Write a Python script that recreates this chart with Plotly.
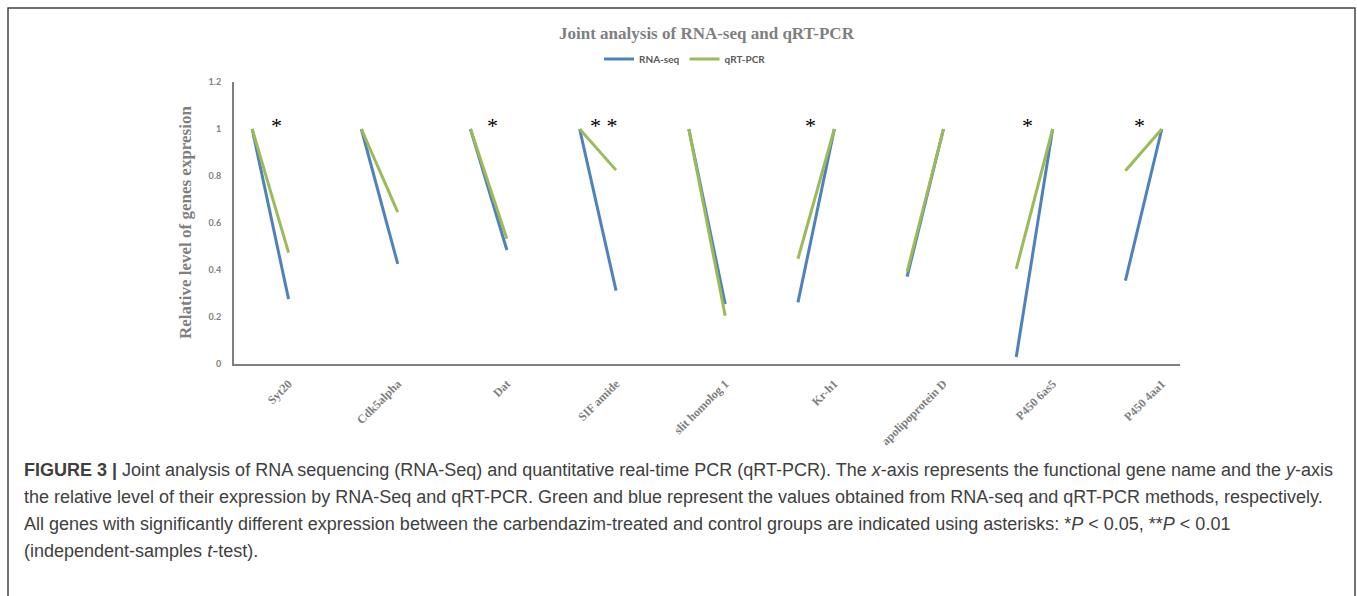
import plotly.graph_objects as go

# ---------------- data ----------------
genes = ["Syt20", "Cdk5alpha", "Dat", "SIF amide", "slit homolog 1",
         "Kr-h1", "apolipoprotein D", "P450 6as5", "P450 4aa1"]
rna_start = [1.0, 1.0, 1.0, 1.0, 1.0, 0.262, 0.372, 0.030, 0.355]
rna_end = [0.276, 0.426, 0.485, 0.312, 0.255, 1.0, 1.0, 1.0, 1.0]
qpcr_start = [1.0, 1.0, 1.0, 1.0, 1.0, 0.448, 0.393, 0.405, 0.822]
qpcr_end = [0.474, 0.646, 0.533, 0.825, 0.205, 1.0, 1.0, 1.0, 1.0]
significance = ["*", "", "*", "* *", "", "*", "", "*", "*"]
y_ticks = [0, 0.2, 0.4, 0.6, 0.8, 1.0, 1.2]
y_tick_labels = ["0", "0.2", "0.4", "0.6", "0.8", "1", "1.2"]

# ---------------- layout helpers ----------------
W, H = 1357, 596
L, R, T, B = 234, 1180, 82, 364  # plot area in pixels


def px(x):
    return (x - L) / (R - L)


def py(y):
    return (B - y) / (B - T)


def build(start, end):
    xs, ys = [], []
    for i in range(len(genes)):
        xs += [3 * i, 3 * i + 1, None]
        ys += [start[i], end[i], None]
    return xs, ys


BLUE = "#4F81BD"
GREEN = "#9BBB59"
GRAY = "#7F7F7F"

fig = go.Figure()
xs, ys = build(rna_start, rna_end)
fig.add_trace(go.Scatter(x=xs, y=ys, mode="lines", name="RNA-seq",
                         line=dict(color=BLUE, width=3), connectgaps=False))
xs, ys = build(qpcr_start, qpcr_end)
fig.add_trace(go.Scatter(x=xs, y=ys, mode="lines", name="qRT-PCR",
                         line=dict(color=GREEN, width=3), connectgaps=False))

annotations = []
# significance stars (placed a little after each gene's first point)
star_dx = [0.68, 0.6, 0.6, 0.66, 0.5, 0.35, 0.5, 0.3, 0.4]
for i, s in enumerate(significance):
    if s:
        annotations.append(dict(
            x=3 * i + star_dx[i], y=1.015, xref="x", yref="y", text=s,
            showarrow=False, xanchor="center", yanchor="middle",
            font=dict(family="Liberation Serif", size=22, color="black")))

# chart title
annotations.append(dict(
    x=px(707), y=py(33), xref="paper", yref="paper",
    text="<b>Joint analysis of RNA-seq and qRT-PCR</b>", showarrow=False,
    xanchor="center", yanchor="middle",
    font=dict(family="Liberation Serif", size=17, color=GRAY)))

# y-axis title
annotations.append(dict(
    x=px(185), y=py(223), xref="paper", yref="paper", textangle=-90,
    text="<b>Relative level of genes expresion</b>", showarrow=False,
    xanchor="center", yanchor="middle",
    font=dict(family="Liberation Serif", size=17, color=GRAY)))

# caption
caption = [
    "<b>FIGURE 3 |</b> Joint analysis of RNA sequencing (RNA-Seq) and quantitative real-time PCR (qRT-PCR). "
    "The <i>x</i>-axis represents the functional gene name and the <i>y</i>-axis",
    "the relative level of their expression by RNA-Seq and qRT-PCR. Green and blue represent the values "
    "obtained from RNA-seq and qRT-PCR methods, respectively.",
    "All genes with significantly different expression between the carbendazim-treated and control groups "
    "are indicated using asterisks: *<i>P</i> &lt; 0.05, **<i>P</i> &lt; 0.01",
    "(independent-samples <i>t</i>-test).",
]
for k, line in enumerate(caption):
    annotations.append(dict(
        x=px(22), y=py(470 + 27 * k), xref="paper", yref="paper", text=line,
        showarrow=False, xanchor="left", yanchor="middle",
        font=dict(family="Liberation Sans", size=18, color="#404040")))

fig.update_layout(
    width=W, height=H,
    margin=dict(l=L, r=W - R, t=T, b=H - B, pad=0),
    paper_bgcolor="white", plot_bgcolor="white",
    showlegend=True,
    legend=dict(orientation="h", x=px(685), y=py(59), xanchor="center",
                yanchor="middle", font=dict(family="Lato", size=10, color="#595959",
                                            weight="bold"),
                itemwidth=30, bgcolor="rgba(0,0,0,0)"),
    annotations=annotations,
    shapes=[dict(type="rect", xref="paper", yref="paper",
                 x0=px(8), x1=px(1355), y0=py(604), y1=py(8),
                 line=dict(color="#444444", width=1.5))],
    xaxis=dict(range=[-0.5, 25.5], tickmode="array",
               tickvals=[3 * i + 1 for i in range(len(genes))], ticktext=genes,
               tickangle=-45, showgrid=False, zeroline=False, showline=True,
               linecolor=GRAY, linewidth=2, ticks="outside", ticklen=6,
               tickcolor="rgba(0,0,0,0)",
               tickfont=dict(family="Liberation Serif", size=12, color=GRAY,
                             weight="bold")),
    yaxis=dict(range=[0, 1.2], tickmode="array", tickvals=y_ticks,
               ticktext=y_tick_labels, showgrid=False, zeroline=False,
               showline=True, linecolor=GRAY, linewidth=2, ticks="outside",
               ticklen=9, tickcolor="rgba(0,0,0,0)",
               tickfont=dict(family="Lato", size=9, color=GRAY, weight="bold")),
)

fig.write_html("out.html")
